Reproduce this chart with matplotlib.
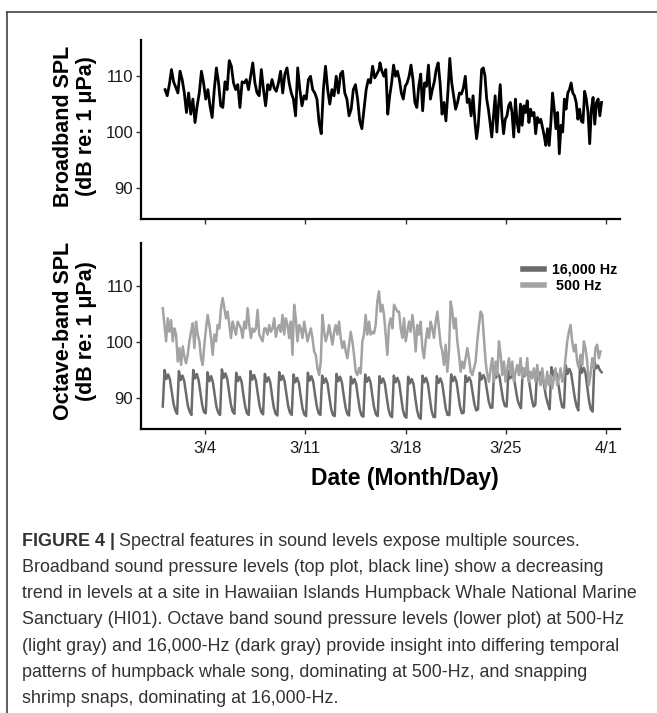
import numpy as np
import matplotlib
matplotlib.use("Agg")
import matplotlib.pyplot as plt
from matplotlib.lines import Line2D

plt.rcParams['font.family'] = ['Liberation Sans', 'DejaVu Sans']

# ---------------- data (days since 3/1 00:00, dB re 1 uPa) ----------------
broadband_seg1 = [107.6, 106.5, 108.5, 111.2, 109, 108, 107, 110.9, 109.4, 107, 103.5, 107, 103.2, 105.9,
                  101.7, 104.7, 107, 110.9, 108.8, 105.9, 107.6, 104.7, 102.6, 107.6, 111.5, 108.8, 104.7,
                  104.4, 109, 107.6, 112.8, 111.8, 108.8, 107.6, 108.5, 104.4, 109, 108.8, 109.4, 107.6,
                  110, 112.4, 108.8, 107, 106.5, 111.2, 107.6, 104.7, 108.5, 107.6, 109.4, 107.9, 107.3,
                  108.8, 110.9, 107, 110.4, 111.5, 108.8, 107, 105.9, 102.9, 111.5, 107.6, 104.7, 106.5,
                  105.9, 109.4, 110, 107.6, 107, 105.9, 101.7, 99.7, 107.6, 111.8, 107.6, 105, 107.6,
                  106.5, 110, 107, 110.4, 110.9, 107, 105.9, 102.9, 104.1, 107.6, 108.5, 105.9, 102,
                  100.6, 104.1, 107.6, 109.4, 108.8, 111.8, 109.7, 110.4, 111.2]
broadband_seg2 = [112.4, 110.9, 110, 111.2, 103.2, 106.5, 108.8, 112, 110, 110.9, 109.4, 107, 105.9, 108.2,
                  108.8, 110, 112, 109.4, 105.3, 104.4, 108.2, 110.4, 103.8, 108.8, 108.2, 112, 105.9,
                  107.6, 109, 111.2, 112.4, 108.8, 103.2, 105.3, 102, 107, 113.2, 108.8, 106.5, 104.1,
                  105.3, 107, 106.8, 107.9, 110, 105.3, 105.9, 102.9, 106.5, 101.7]
broadband_seg3 = [98.8, 101.2, 105.9, 111.2, 111.5, 110, 105.9, 104.1, 101.7, 99.1, 102.9, 106.5, 100,
                  104.7, 108.5, 102.9, 99.7, 102.3, 102.9, 104.7, 105.3, 103.5, 99.1, 105.9, 101.7, 100,
                  105, 101.2, 104.7, 103.5, 105.6, 101.7, 104.1, 102.9, 103.5, 99.7, 102.6, 101.7, 102.3,
                  100.9, 99.4, 97.6, 100.6, 97.6, 101.7, 107, 104.1, 100.6, 103.5, 96.1, 101.2, 100,
                  105.9, 104.1, 107, 107.6, 108.8, 107, 106.5, 105.3, 102.3, 104.1, 102, 101.7, 107.3,
                  105.9, 103.5, 97.9, 104.1, 106.2, 101.4, 105.3, 105.9, 102.9, 105.3]
broadband_spans = [(0.21, 15.14), (15.21, 21.84), (21.95, 30.67)]

hz500_segA = [106, 103, 100.1, 104.2, 101.8, 103.9, 100.1, 102.4, 101.3, 96.5,
              98.9, 95.9, 99.2, 97.4, 96.2, 97.7, 100.1, 101.8, 103.3, 98.9,
              103.6, 101.3, 100.1, 97.1, 95.9, 99.5, 102.4, 104.8, 103, 100.7,
              97.7, 101.3, 100.1, 103, 102.4, 106, 107.8, 106, 104.2, 105.4,
              103, 100.7, 103.6, 102.4, 101.3, 103.6, 103, 102.4, 100.7, 103.6,
              102.4, 106, 103, 100.7, 102.4, 101.8, 102.4, 105.7, 101.3, 100.7,
              100.1, 102.4, 102.4, 101.3, 103, 101.8, 102.4, 104.2, 100.9, 102.4,
              103, 101.8, 104.8, 101.3, 104.2, 103, 100.7, 103.6, 97.7, 106.6,
              104.2, 100.1, 103, 102.4, 100.7, 103.6, 101.8, 100.1, 101.3, 102.4,
              100.7, 98.3, 97.7, 95.3, 94.1, 96.5, 104.8, 101.8, 100.1, 101.3,
              103, 101.3, 99.5, 101.8, 103, 101.3, 103.6, 100.7, 98.9, 100.1,
              98.3, 97.1, 99.5, 101.8, 100.1, 97.7, 94.7, 94.1, 95.3, 94.4,
              100.1, 101.3, 104.8, 101.3, 103.6, 101.3, 101.8, 101.5, 103, 107.2,
              109]
hz500_segB = [105.4, 106.6, 104.8, 101.3, 97.7, 103, 104.2, 102.4, 106.6, 106,
              105.4, 105.4, 102.4, 100.7, 104.2, 100.1, 101.8, 103.6, 101.8, 104.8,
              102.4, 98.3, 103, 101.3, 103.6, 98.9, 97.1, 100.1, 102.4, 100.7,
              103.6, 102.4, 100.7, 103.6, 105.4, 102.4, 99.5, 98.3, 95.9, 99.5,
              94.7, 98.3, 107.2, 105.4, 102.4, 104.2, 100.1, 97.7, 94.7, 96.5,
              95.3, 97.1, 98.9, 97.1, 94.7, 94.1, 95.3, 96.5, 100.1, 103,
              105.4, 104.8, 100.7, 96.5, 94.1, 92.9, 95.3, 97.1, 92.9, 96.5,
              94.1, 100.1, 97.7, 94.1, 96.5, 92.9, 95.3, 97.1, 94.1, 96.5,
              92.9, 94.7, 95.9, 94.1, 97.1, 93.5, 95.3, 94.1, 97.1, 92.9,
              94.7, 93.5, 95.3, 92.9, 95.9, 93.5, 92.3, 95.3, 92.9, 91.7,
              94.7, 92.3, 94.1, 91.7, 93.5, 95.3, 92.3, 93.5, 95.3, 92.9,
              94.1, 97.1, 100.1, 101.8, 103, 100.1, 98.3, 99.5, 96.5, 95.3,
              97.7, 95.9, 100.1, 98.9, 96.5, 92.3, 94.1, 97.1, 95.3, 98.9,
              99.5, 97.1, 98.3]
hz500_spans = [(0.05, 15.14), (15.26, 30.6)]

# 16,000 Hz, 3-hourly readings, one row per day starting 3/1 00:00
hz16k_daily = [
    [88.5, 95.0, 93.4, 94.2, 93.3, 91.2, 89.0, 87.8],
    [87.2, 94.8, 93.2, 94.0, 93.0, 90.8, 88.6, 87.6],
    [87.0, 95.0, 93.5, 94.3, 93.2, 91.0, 88.8, 87.5],
    [87.3, 94.6, 93.0, 93.9, 92.8, 90.5, 88.4, 87.4],
    [87.0, 95.1, 93.6, 94.4, 93.4, 91.2, 88.9, 87.6],
    [87.2, 94.5, 93.0, 93.8, 92.9, 90.6, 88.5, 87.3],
    [87.0, 94.8, 93.3, 94.1, 93.1, 90.9, 88.7, 87.5],
    [87.1, 94.3, 92.9, 93.7, 92.8, 90.4, 88.3, 87.2],
    [86.9, 94.6, 93.2, 94.0, 93.0, 90.8, 88.6, 87.4],
    [87.0, 94.2, 92.8, 93.6, 92.7, 90.3, 88.2, 87.1],
    [86.8, 94.5, 93.1, 93.9, 92.9, 90.6, 88.5, 87.3],
    [87.0, 94.0, 92.7, 93.5, 92.6, 90.2, 88.1, 87.0],
    [86.8, 94.3, 93.0, 93.8, 92.8, 90.5, 88.4, 87.2],
    [86.9, 93.8, 92.6, 93.4, 92.5, 90.1, 88.0, 86.9],
    [86.7, 94.2, 92.9, 93.7, 92.8, 90.4, 88.3, 87.1],
    [86.8, 93.9, 92.7, 93.5, 92.6, 90.2, 88.1, 86.9],
    [86.6, 94.0, 92.8, 93.6, 92.7, 90.3, 88.0, 86.8],
    [86.5, 93.8, 92.6, 93.4, 92.5, 90.0, 87.8, 86.6],
    [86.3, 94.0, 92.8, 93.6, 92.6, 90.2, 87.9, 86.7],
    [86.6, 93.9, 92.7, 93.5, 92.6, 90.3, 88.1, 87.0],
    [87.0, 94.2, 93.0, 93.8, 92.9, 90.6, 88.4, 87.3],
    [87.4, 94.0, 92.9, 93.7, 93.0, 90.9, 88.9, 87.8],
    [88.0, 94.5, 93.3, 94.1, 93.4, 91.4, 89.4, 88.3],
    [88.3, 95.0, 93.6, 94.5, 93.8, 91.8, 89.7, 88.6],
    [88.5, 94.8, 93.5, 94.3, 93.7, 91.7, 89.8, 88.8],
    [88.2, 95.3, 93.9, 94.8, 94.0, 92.0, 89.9, 88.5],
    [88.8, 95.0, 93.8, 94.6, 93.9, 92.1, 90.2, 89.0],
    [88.0, 95.5, 94.0, 95.0, 94.2, 92.2, 90.0, 88.4],
    [88.3, 95.8, 94.3, 95.2, 94.4, 92.3, 90.1, 88.6],
    [87.8, 96.0, 94.5, 95.4, 94.5, 92.0, 89.5, 88.0],
    [87.6, 96.6, 95.3, 95.8, 95.0, 94.6],
]
hz16k_step_hours = 3

tick_days = [3, 10, 17, 24, 31]
tick_labels = ['3/4', '3/11', '3/18', '3/25', '4/1']
y_ticks = [90, 100, 110]

caption_lines = [
    "Spectral features in sound levels expose multiple sources.",
    "Broadband sound pressure levels (top plot, black line) show a decreasing",
    "trend in levels at a site in Hawaiian Islands Humpback Whale National Marine",
    "Sanctuary (HI01). Octave band sound pressure levels (lower plot) at 500-Hz",
    "(light gray) and 16,000-Hz (dark gray) provide insight into differing temporal",
    "patterns of humpback whale song, dominating at 500-Hz, and snapping",
    "shrimp snaps, dominating at 16,000-Hz.",
]

# ---------------- assemble series ----------------
def seg_times(segs, spans):
    t, v = [], []
    for s, (a, b) in zip(segs, spans):
        t.append(np.linspace(a, b, len(s)))
        v.append(np.asarray(s, float))
    return np.concatenate(t), np.concatenate(v)

t_bb, v_bb = seg_times([broadband_seg1, broadband_seg2, broadband_seg3], broadband_spans)
t_500, v_500 = seg_times([hz500_segA, hz500_segB], hz500_spans)
v_16k = np.concatenate([np.asarray(r, float) for r in hz16k_daily])
t_16k = np.arange(len(v_16k)) * hz16k_step_hours / 24.0 + 0.05

# ---------------- figure ----------------
W, H = 657, 713
fig = plt.figure(figsize=(W / 100, H / 100), dpi=100)
fig.patch.set_facecolor('white')

def fx(px):
    return px / W

def fy(py):
    return 1 - py / H

left, right = 141, 620
ax1 = fig.add_axes([fx(left), fy(219), fx(right) - fx(left), fy(40) - fy(219)])
ax2 = fig.add_axes([fx(left), fy(429), fx(right) - fx(left), fy(243) - fy(429)])

xlim = (-1.47, 31.96)
tick_color = '#1a1a1a'
for ax in (ax1, ax2):
    for s in ('top', 'right'):
        ax.spines[s].set_visible(False)
    for s in ('left', 'bottom'):
        ax.spines[s].set_linewidth(1.6)
        ax.spines[s].set_color('black')
    ax.set_xlim(*xlim)
    ax.set_xticks(tick_days)
    ax.set_yticks(y_ticks)
    ax.tick_params(axis='both', direction='out', length=3.5, width=1.0, color='#333333',
                   labelsize=12, labelcolor=tick_color, pad=2)
    ax.patch.set_alpha(0)

ax1.set_ylim(84.4, 116.5)
ax2.set_ylim(84.5, 117.6)
ax1.set_xticklabels([])
ax2.set_xticklabels(tick_labels)
ax2.tick_params(axis='x', pad=5)

ax1.plot(t_bb, v_bb, color='black', lw=2.0, solid_joinstyle='round')
l16, = ax2.plot(t_16k, v_16k, color='#6b6b6b', lw=1.8, label='16,000 Hz', solid_joinstyle='round')
l500, = ax2.plot(t_500, v_500, color='#a3a3a3', lw=1.8, label=' 500 Hz', solid_joinstyle='round')

leg = ax2.legend(handles=[l16, l500], loc='upper left',
                 bbox_to_anchor=((523 - left) / (right - left), (429 - 263) / (429 - 243)),
                 frameon=False, prop={'weight': 'bold', 'size': 10.3}, handlelength=1.5,
                 handletextpad=0.55, labelspacing=0.12, borderpad=0, borderaxespad=0)
for h in leg.legend_handles:
    h.set_linewidth(4)

# axis titles
lab_kw = dict(rotation=90, ha='center', va='center', fontsize=15.5, fontweight='bold',
              multialignment='center', linespacing=1.15, color='black')
fig.text(fx(75), fy(126), "Broadband SPL\n(dB re: 1 \u03bcPa)", **lab_kw)
fig.text(fx(75), fy(331), "Octave-band SPL\n(dB re: 1 \u03bcPa)", **lab_kw)
fig.text(fx(405), fy(478), "Date (Month/Day)", ha='center', va='center',
         fontsize=16.5, fontweight='bold', color='black')

# frame lines
fig.add_artist(Line2D([fx(7), 1.0], [fy(12), fy(12)], color='#333333', lw=1.1,
                      transform=fig.transFigure))
fig.add_artist(Line2D([fx(7), fx(7)], [fy(12), 0.0], color='#333333', lw=1.1,
                      transform=fig.transFigure))

# caption, font size fitted so the widest line spans ~22..638 px
cap_color = '#333333'
fig.canvas.draw()
r = fig.canvas.get_renderer()
probe = fig.text(0, 0, caption_lines[2], fontsize=12)
pw = probe.get_window_extent(renderer=r).width
probe.remove()
cap_size = 12 * (638 - 22) / pw

y0, dy = 541, 26.3
bold = fig.text(fx(22), fy(y0), "FIGURE 4 |", ha='left', va='center', fontsize=cap_size,
                fontweight='bold', color=cap_color)
bb = bold.get_window_extent(renderer=r)
fig.text(bb.x1 / W + 4 / W, fy(y0), caption_lines[0], ha='left', va='center',
         fontsize=cap_size, color=cap_color)
for i, line in enumerate(caption_lines[1:], start=1):
    fig.text(fx(22), fy(y0 + i * dy), line, ha='left', va='center',
             fontsize=cap_size, color=cap_color)

fig.savefig('out.png', dpi=100, facecolor='white')
